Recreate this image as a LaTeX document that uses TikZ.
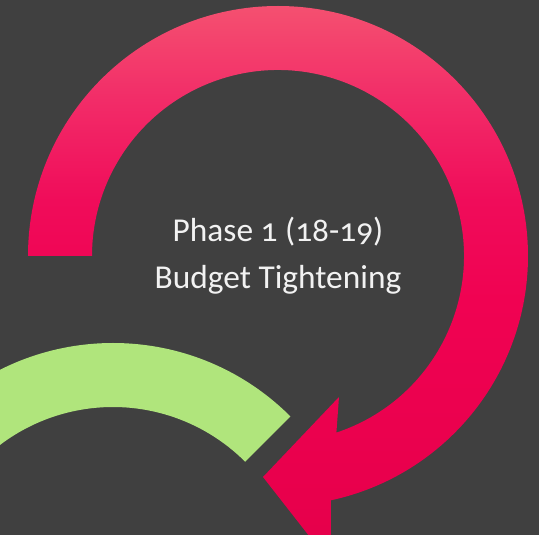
\documentclass[tikz,border=0pt]{standalone}
\usepackage{fontspec}
\setmainfont[Numbers=OldStyle]{Carlito}
\definecolor{bgGray}{HTML}{404040}
\definecolor{arcTop}{HTML}{F45070}
\definecolor{arcUpper}{HTML}{F22C68}
\definecolor{arcMid}{HTML}{F00C5A}
\definecolor{arcLower}{HTML}{F00252}
\definecolor{arcLow}{HTML}{E8004C}
\definecolor{arcBot}{HTML}{E4004A}
\definecolor{arcGreen}{HTML}{B0E57C}
\pgfdeclareverticalshading{redarc}{100bp}{color(0bp)=(arcBot); color(25bp)=(arcBot);
    color(30.7bp)=(arcLow); color(48.7bp)=(arcLower); color(57.6bp)=(arcMid);
    color(66.6bp)=(arcUpper); color(75bp)=(arcTop); color(100bp)=(arcTop)}
\newcommand\RingArc[5]{% center, outer radius, inner radius, from, to
    (#1) ++(#4:#2) arc (#4:#5:#2) -- ($(#1)+(#5:#3)$) arc (#5:#4:#3) -- cycle
}
\usetikzlibrary{calc}
\tikzset{
    caption/.style={text=white!95!black, font=\fontsize{19}{23}\selectfont, anchor=base},
}

\begin{document}
\begin{tikzpicture}[x=0.02cm,y=0.02cm]
    \useasboundingbox (0,0) rectangle (539,535);
    \fill[bgGray] (0,0) rectangle (539,535);
    \clip (0,0) rectangle (539,535);
    \coordinate (RedCenter) at (278,279);
    \coordinate (GreenCenter) at (113,-59);
    \begin{scope} % green ring, next phase
        \fill[arcGreen] \RingArc{GreenCenter}{251}{187}{45}{190};
    \end{scope}
    \begin{scope} % red arrow
        \coordinate (OuterStart) at ($(RedCenter)+(180:250)$);
        \coordinate (InnerEnd) at ($(RedCenter)+(-71.7:186)$);
        \coordinate (Tip) at (263,58);
        \coordinate (UpperBarb) at (339,138);
        \coordinate (LowerBarb) at (331,-29);
        \shade[shading=redarc]
            (OuterStart) arc (180:-77.8:250) -- (LowerBarb) -- (Tip)
            -- (UpperBarb) -- (InnerEnd) arc (-71.7:180:186) -- cycle;
    \end{scope}
    \node[caption] (phase) at (278,293) {Phase 1 (18-19)};
    \node[caption] (title) at (278,246) {Budget Tightening};
\end{tikzpicture}
\end{document}
